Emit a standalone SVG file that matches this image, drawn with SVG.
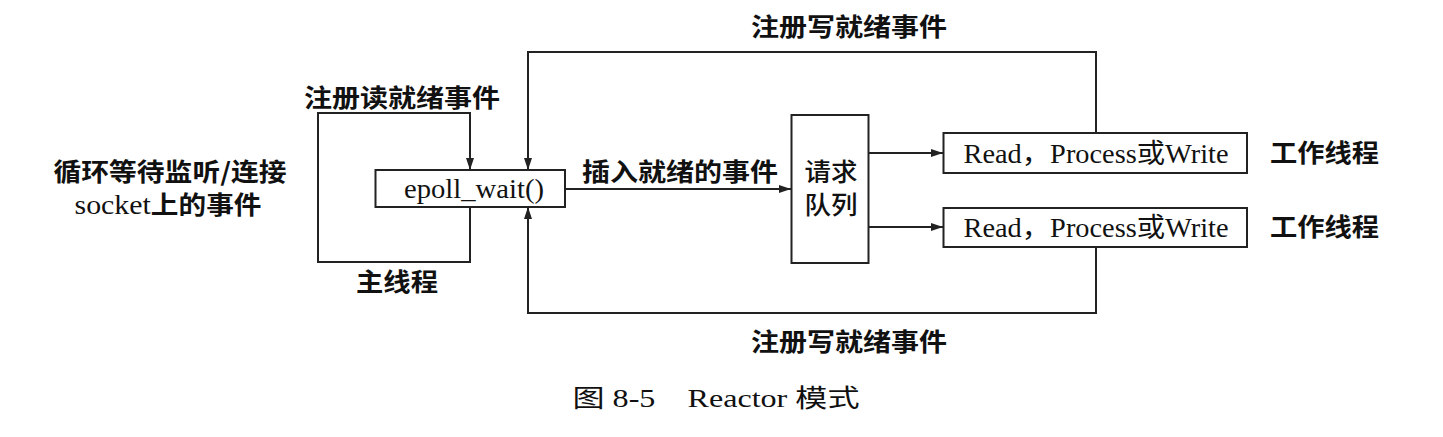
<svg xmlns="http://www.w3.org/2000/svg" width="1443" height="437" viewBox="0 0 1443 437">
<style>
.box{fill:#fff;stroke:#222;stroke-width:2}
.ln{fill:none;stroke:#222;stroke-width:2}
.lb{font-family:"Noto Sans CJK SC",sans-serif;font-weight:bold;font-size:25px;fill:#111}
.lr{font-family:"Noto Sans CJK SC",sans-serif;font-weight:500;font-size:25px;fill:#111}
.sf{font-family:"Liberation Serif","Noto Sans CJK SC",serif;font-size:27px;fill:#111}
.cap{font-family:"Liberation Serif","Noto Sans CJK SC",serif;font-size:25px;fill:#111}
</style>
<defs>
<marker id="ah" viewBox="0 0 12 8" refX="12" refY="4" markerWidth="12" markerHeight="8" markerUnits="userSpaceOnUse" orient="auto">
<path d="M0,0 L12,4 L0,8 z" fill="#222"/>
</marker>
</defs>
<g id="connectors">
<path class="ln" d="M470,207 V262 H318 V113 H470 V170" marker-end="url(#ah)"/>
<path class="ln" d="M1096,133 V52 H528 V170" marker-end="url(#ah)"/>
<path class="ln" d="M1096,247 V313 H528 V207" marker-end="url(#ah)"/>
<path class="ln" d="M565,189 H791" marker-end="url(#ah)"/>
<path class="ln" d="M868,153 H943" marker-end="url(#ah)"/>
<path class="ln" d="M868,227 H943" marker-end="url(#ah)"/>
</g>
<g id="epoll">
<rect class="box" x="375.5" y="170" width="189.5" height="37"/>
<text class="sf" x="474" y="198" text-anchor="middle" textLength="140" lengthAdjust="spacingAndGlyphs">epoll_wait()</text>
</g>
<g id="queue">
<rect class="box" x="791.5" y="115" width="77" height="148"/>
<text class="lr" x="831" y="181" text-anchor="middle" textLength="53" lengthAdjust="spacingAndGlyphs">请求</text>
<text class="lr" x="831" y="214" text-anchor="middle" textLength="53" lengthAdjust="spacingAndGlyphs">队列</text>
</g>
<g id="worker1">
<rect class="box" x="943.5" y="133" width="303.5" height="40"/>
<text class="sf" x="1096" y="163" text-anchor="middle" textLength="265" lengthAdjust="spacingAndGlyphs">Read，Process或Write</text>
</g>
<g id="worker2">
<rect class="box" x="943.5" y="208" width="303.5" height="39"/>
<text class="sf" x="1096" y="237" text-anchor="middle" textLength="265" lengthAdjust="spacingAndGlyphs">Read，Process或Write</text>
</g>
<g id="labels">
<text class="lb" x="849" y="36" text-anchor="middle" textLength="196" lengthAdjust="spacingAndGlyphs">注册写就绪事件</text>
<text class="lb" x="402" y="107" text-anchor="middle" textLength="196" lengthAdjust="spacingAndGlyphs">注册读就绪事件</text>
<text class="lb" x="170" y="181" text-anchor="middle" textLength="233" lengthAdjust="spacingAndGlyphs">循环等待监听/连接</text>
<text class="lb" x="168" y="214" text-anchor="middle" textLength="187" lengthAdjust="spacingAndGlyphs"><tspan font-family="Liberation Serif, serif" font-weight="normal" font-size="27">socket</tspan>上的事件</text>
<text class="lb" x="397" y="291" text-anchor="middle" textLength="82" lengthAdjust="spacingAndGlyphs">主线程</text>
<text class="lb" x="582" y="181" textLength="196" lengthAdjust="spacingAndGlyphs">插入就绪的事件</text>
<text class="lb" x="1270" y="162" textLength="109" lengthAdjust="spacingAndGlyphs">工作线程</text>
<text class="lb" x="1270" y="236" textLength="109" lengthAdjust="spacingAndGlyphs">工作线程</text>
<text class="lb" x="849" y="351" text-anchor="middle" textLength="196" lengthAdjust="spacingAndGlyphs">注册写就绪事件</text>
<text class="cap" x="716" y="407" text-anchor="middle" textLength="287" lengthAdjust="spacingAndGlyphs">图 8-5　Reactor 模式</text>
</g>
</svg>
